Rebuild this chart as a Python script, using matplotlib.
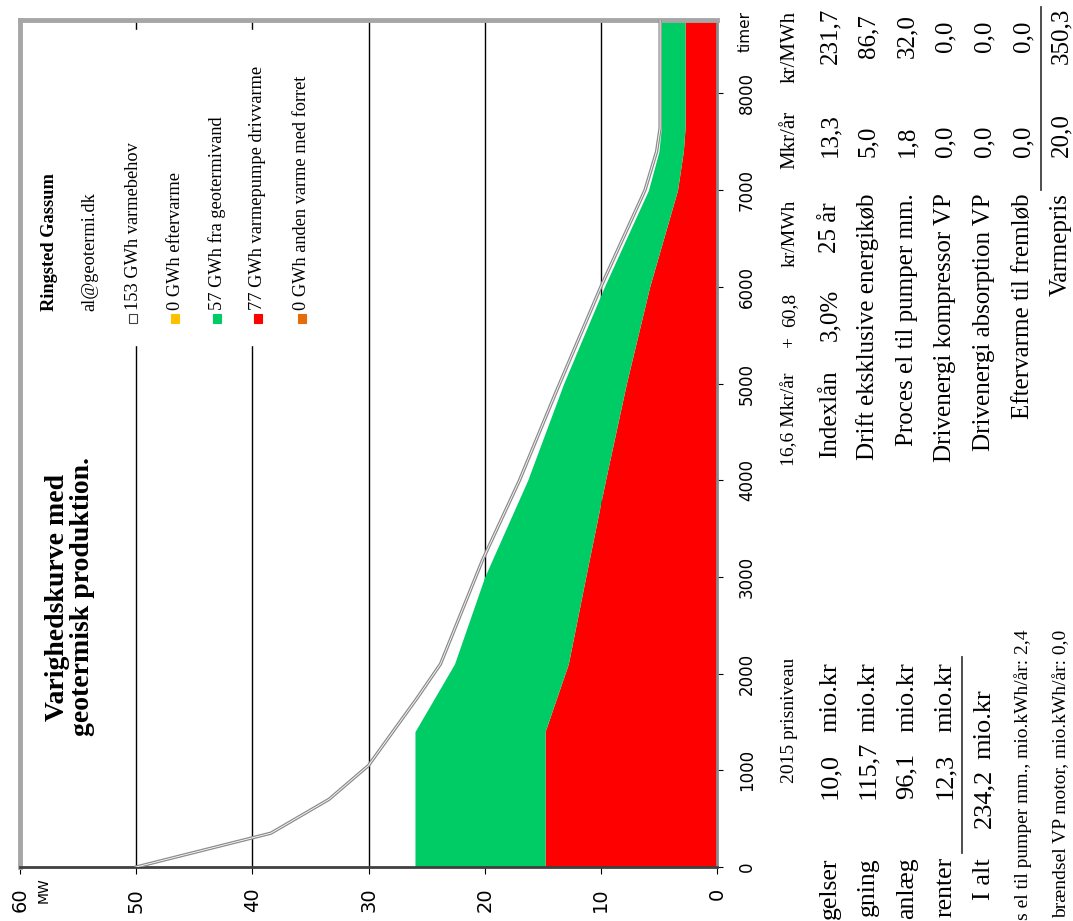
import matplotlib.pyplot as plt
from matplotlib.patches import Rectangle
from matplotlib.lines import Line2D
import numpy as np

# heat demand duration curve (MW over hours of the year)
demand_hours = [0, 350, 700, 1050, 1750, 2100, 3170, 4000, 4900, 6000, 7000, 7400, 7640, 8760]
demand_mw = [50, 38.4, 33.4, 30.0, 25.8, 23.8, 20.2, 17.0, 13.9, 10.0, 6.2, 5.2, 4.9, 4.9]

# stacked production
prod_hours = [0, 1400, 2100, 3000, 4000, 5000, 6000, 7000, 7400, 7640, 8760]
hp_drive_mw = [14.8, 14.8, 12.8, 11.3, 9.6, 7.8, 5.8, 3.4, 2.9, 2.75, 2.75]
geo_mw = [11.2, 11.2, 9.8, 8.7, 6.7, 5.4, 3.9, 2.5, 2.1, 2.05, 2.05]

mw_ticks = [0, 10, 20, 30, 40, 50, 60]
hour_ticks = [0, 1000, 2000, 3000, 4000, 5000, 6000, 7000, 8000]

legend_gwh = [153, 0, 57, 77, 0]
legend_names = ["varmebehov", "eftervarme", "fra geotermivand",
                "varmepumpe drivvarme", "anden varme med forret"]
legend_colors = ["white", "#FFC000", "#00CC66", "#FF0000", "#E46C0A"]

# cost table (bottom rows are cut by the picture edge, only the visible part kept)
invest_labels = ["gelser", "gning", "anlæg", "renter"]
invest_values = ["10,0", "115,7", "96,1", "12,3"]
invest_total = "234,2"
energy_notes = ["s el til pumper mm., mio.kWh/år: 2,4",
                "brændsel VP motor, mio.kWh/år: 0,0"]
cost_labels = ["Drift eksklusive energikøb", "Proces el til pumper mm.",
               "Drivenergi kompressor VP", "Drivenergi absorption VP",
               "Eftervarme til fremløb"]
cost_mkr = ["5,0", "1,8", "0,0", "0,0", "0,0"]
cost_krmwh = ["86,7", "32,0", "0,0", "0,0", "0,0"]
loan_mkr, loan_krmwh = "13,3", "231,7"
price_mkr, price_krmwh = "20,0", "350,3"

W, H = 1073, 921
fig = plt.figure(figsize=(W / 100, H / 100), dpi=100)
SERIF = "Liberation Serif"


def put(x, y, s, size=18, va="center", ha="center", **kw):
    # picture is turned 90 degrees, so all text runs bottom-to-top
    fig.text(x / W, 1 - y / H, s, rotation=90, ha=ha, va=va,
             fontsize=size, family=kw.pop("family", SERIF), **kw)


ax = fig.add_axes([20 / W, 1 - 867 / H, 697 / W, 847 / H])
ax.set_xlim(60, 0)
ax.set_ylim(0, 8760)

red = np.array(hp_drive_mw)
green_top = red + np.array(geo_mw)
ax.fill_betweenx(prod_hours, 0, red, color="#FF0000", lw=0, zorder=2)
ax.fill_betweenx(prod_hours, red, green_top, color="#00CC66", lw=0, zorder=2)
ax.plot(demand_mw, demand_hours, color="#8c8c8c", lw=2.4, zorder=3)
ax.plot(demand_mw, demand_hours, color="white", lw=0.6, zorder=3)

ax.set_xticks(mw_ticks)
ax.set_yticks(hour_ticks)
ax.grid(axis="x", color="black", lw=1)
ax.set_axisbelow(True)
ax.yaxis.tick_right()
ax.tick_params(axis="x", direction="out", length=5, labelrotation=90,
               labelsize=14, pad=10)
ax.tick_params(axis="y", direction="out", length=4, labelrotation=90,
               labelsize=12, pad=11)
plt.setp(ax.get_yticklabels(), va="center")

for side in ["left", "top"]:
    ax.spines[side].set_color("#a6a6a6")
    ax.spines[side].set_linewidth(3.5)
ax.spines["right"].set_color("#8c8c8c")
ax.spines["right"].set_linewidth(2)
ax.spines["bottom"].set_color("#404040")
ax.spines["bottom"].set_linewidth(2)

put(44, 890, "MW", size=10, family="DejaVu Sans")
put(745, 32, "timer", size=11, family="DejaVu Sans")

# title and legend block
put(70, 597, "Varighedskurve med\ngeotermisk produktion.", size=20,
    weight="bold", multialignment="center", linespacing=1.05)
fig.add_artist(Rectangle((110 / W, 1 - 345 / H), 220 / W, 315 / H,
                         transform=fig.transFigure, color="white", zorder=1))
put(50, 311, "Ringsted Gassum", size=13.2, va="bottom", weight="bold", zorder=2)
put(90, 311, "al@geotermi.dk", size=13.2, va="bottom", zorder=2)
leg_x = [133, 175, 217, 258, 302]
for lx, g, name, c in zip(leg_x, legend_gwh, legend_names, legend_colors):
    fig.add_artist(Rectangle(((lx - 4) / W, 1 - 323 / H), 8 / W, 9 / H,
                             transform=fig.transFigure, facecolor=c,
                             edgecolor="#404040" if c == "white" else c,
                             lw=0.8, zorder=2))
    put(lx, 310, f"{g} GWh {name}", size=13.2, va="bottom", zorder=2)

# right table
put(790, 373, "16,6 Mkr/år", size=14, va="top")
put(790, 343, "+", size=14)
put(790, 293, "60,8", size=14, va="top")
put(790, 200, "kr/MWh", size=14, va="top")
put(790, 140, "Mkr/år", size=15)
put(790, 47, "kr/MWh", size=15)

put(830, 370, "Indexlån", va="top")
put(830, 315, "3,0%")
put(830, 228, "25 år")
put(830, 157, loan_mkr, va="bottom")
put(830, 36, loan_krmwh)

rows_x = [868, 907, 945, 984, 1023]
for rx, lab, a, b in zip(rows_x, cost_labels, cost_mkr, cost_krmwh):
    put(rx, 193, lab, va="top")
    put(rx, 157, a, va="bottom")
    put(rx, 36, b)
fig.add_artist(Line2D([1041 / W, 1041 / W], [1 - 7 / H, 1 - 190 / H],
                      color="#404040", lw=1.3))
put(1061, 193, "Varmepris", va="top")
put(1061, 157, price_mkr, va="bottom")
put(1061, 36, price_krmwh)

# bottom table
put(790, 720, "2015 prisniveau", size=14)
inv_x = [830, 868, 907, 945]
for rx, lab, v in zip(inv_x, invest_labels, invest_values):
    put(rx, 857, lab, size=18.5, va="top")
    put(rx, 799, v, size=19, va="bottom")
    put(rx, 697, "mio.kr", size=19)
fig.add_artist(Line2D([962 / W, 962 / W], [1 - 657 / H, 1 - 853 / H],
                      color="#404040", lw=1.3))
put(984, 858, "I alt", size=19, va="top")
put(984, 828, invest_total, size=19, va="bottom")
put(984, 724, "mio.kr", size=19)
put(1023, 630, energy_notes[0], size=14, va="top")
put(1062, 630, energy_notes[1], size=14, va="top")

fig.savefig("out.png", dpi=100)
